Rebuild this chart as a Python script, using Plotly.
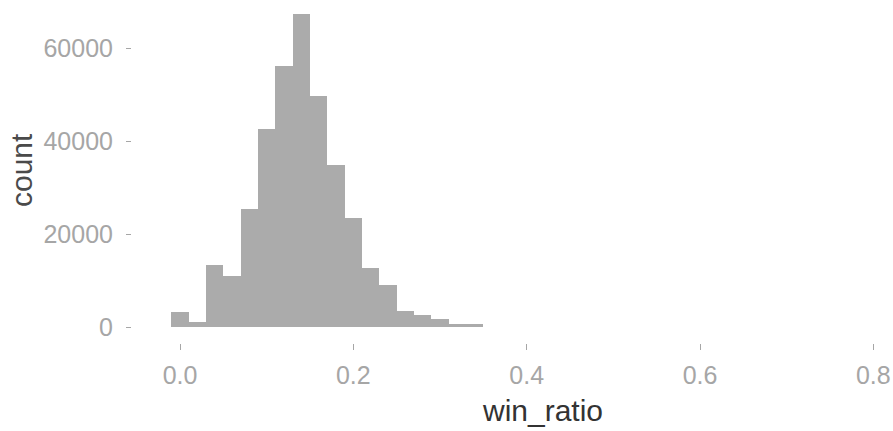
import plotly.graph_objects as go

# Histogram of win_ratio (bin width 0.02, bins centred on multiples of 0.02)
bin_centers = [0.00, 0.02, 0.04, 0.06, 0.08, 0.10, 0.12, 0.14, 0.16, 0.18,
               0.20, 0.22, 0.24, 0.26, 0.28, 0.30, 0.32, 0.34]
counts = [3300, 1150, 13350, 10980, 25400, 42630, 56190, 67450, 49730, 34880,
          23530, 12640, 9040, 3440, 2690, 1830, 580, 540]
bin_width = 0.02

x_ticks = [0.0, 0.2, 0.4, 0.6, 0.8]
x_tick_labels = ["0.0", "0.2", "0.4", "0.6", "0.8"]
y_ticks = [0, 20000, 40000, 60000]
y_tick_labels = ["0", "20000", "40000", "60000"]

W, H = 893, 431
ML, MR, MT, MB = 132, 0, 0, 88
plot_h = H - MT - MB
plot_w = W - ML - MR

fig = go.Figure()
fig.add_trace(go.Bar(
    x=bin_centers, y=counts, width=[bin_width] * len(bin_centers),
    marker=dict(color="#ababab", line=dict(width=0)),
    hoverinfo="x+y", showlegend=False,
))

tick_font = dict(family="Liberation Sans, Arial, sans-serif", size=25, color="#a6a6a6")
fig.update_xaxes(
    range=[-0.0554, 0.8227], tickvals=x_ticks, ticktext=x_tick_labels,
    ticks="outside", ticklen=6, tickwidth=1, tickcolor="#a6a6a6",
    showgrid=False, zeroline=False, showline=False,
    tickfont=tick_font, ticklabelstandoff=4,
)
fig.update_yaxes(
    range=[-3445, 70400], tickvals=y_ticks, ticktext=y_tick_labels,
    ticks="outside", ticklen=5, tickwidth=1, tickcolor="#a6a6a6",
    showgrid=False, zeroline=False, showline=False,
    tickfont=tick_font, ticklabelstandoff=8,
)

title_font = dict(family="Liberation Sans, Arial, sans-serif", size=30, color="#333333")
fig.add_annotation(text="win_ratio", xref="paper", yref="paper",
                   x=(542 - ML) / plot_w, y=(plot_h - (410 - MT)) / plot_h,
                   xanchor="center", yanchor="middle", showarrow=False, font=title_font)
fig.add_annotation(text="count", xref="paper", yref="paper", textangle=-90,
                   x=(21 - ML) / plot_w, y=(plot_h - (170 - MT)) / plot_h,
                   xanchor="center", yanchor="middle", showarrow=False,
                   font=dict(family="Liberation Sans, Arial, sans-serif", size=30, color="#4a4a4a"))

fig.update_layout(
    width=W, height=H, margin=dict(l=ML, r=MR, t=MT, b=MB),
    paper_bgcolor="white", plot_bgcolor="white", bargap=0,
)

fig.write_html("out.html")
